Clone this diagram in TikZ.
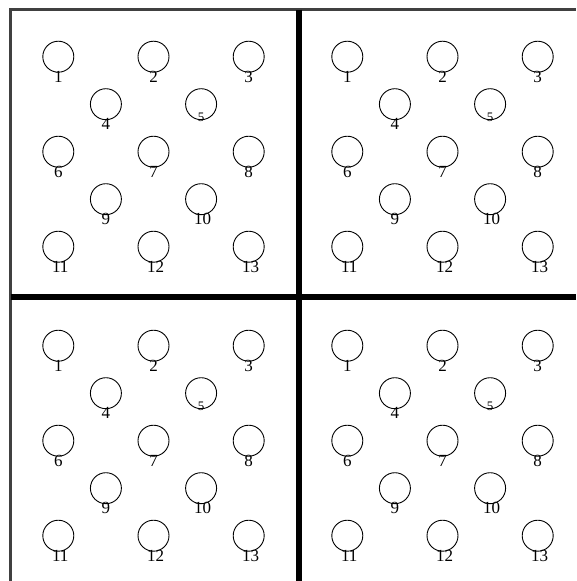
\documentclass[tikz,border=0pt]{standalone}
\usepackage{fontspec}
\setmainfont{Liberation Serif}
\usetikzlibrary{positioning}

\begin{document}
\begin{tikzpicture}[x=1pt, y=-1pt]
		\tikzstyle{hole}=[circle, draw, line width=0.9pt, minimum size=31pt, inner sep=0pt]
		\tikzstyle{num}=[inner sep=0pt, text=black]
		\tikzstyle{thinframe}=[draw=black!75, line width=3pt]
		\tikzstyle{thickframe}=[draw=black, line width=6pt]

		\useasboundingbox (0,0) rectangle (576,581);

		% frame of the four panels
		\draw[thinframe] (10.5,581) |- (576,9.5);
		\draw[thickframe] (299,9.5) -- (299,581);
		\draw[thickframe] (10.5,297) -- (576,297);

		% holes, panel by panel
		\foreach \p/\px/\py in {a/0/0, b/289/0, c/0/289, d/289/289} {
			\foreach \n/\c/\r/\dx/\dy/\fs in {1/0/0/0/19.8/17, 2/2/0/0/19.8/17, 3/4/0/0/19.8/17,
					4/1/1/0/19.8/17, 5/3/1/0/13.5/13,
					6/0/2/0/19.8/17, 7/2/2/0/19.8/17, 8/4/2/0/19.8/17,
					9/1/3/0/19.3/17, 10/3/3/1.5/19.3/17,
					11/0/4/2/19.8/17, 12/2/4/2/19.8/17, 13/4/4/2/19.8/17} {
				\node[hole] (\p\n) at ({58.3+47.6*\c+\px}, {56.7+47.5*\r+\py}) {};
				\node[num, font=\fontsize{\fs}{\fs}\selectfont] (\p\n l) at ([shift={(\dx,\dy)}]\p\n) {\n};
			}
		}
	\end{tikzpicture}
\end{document}
